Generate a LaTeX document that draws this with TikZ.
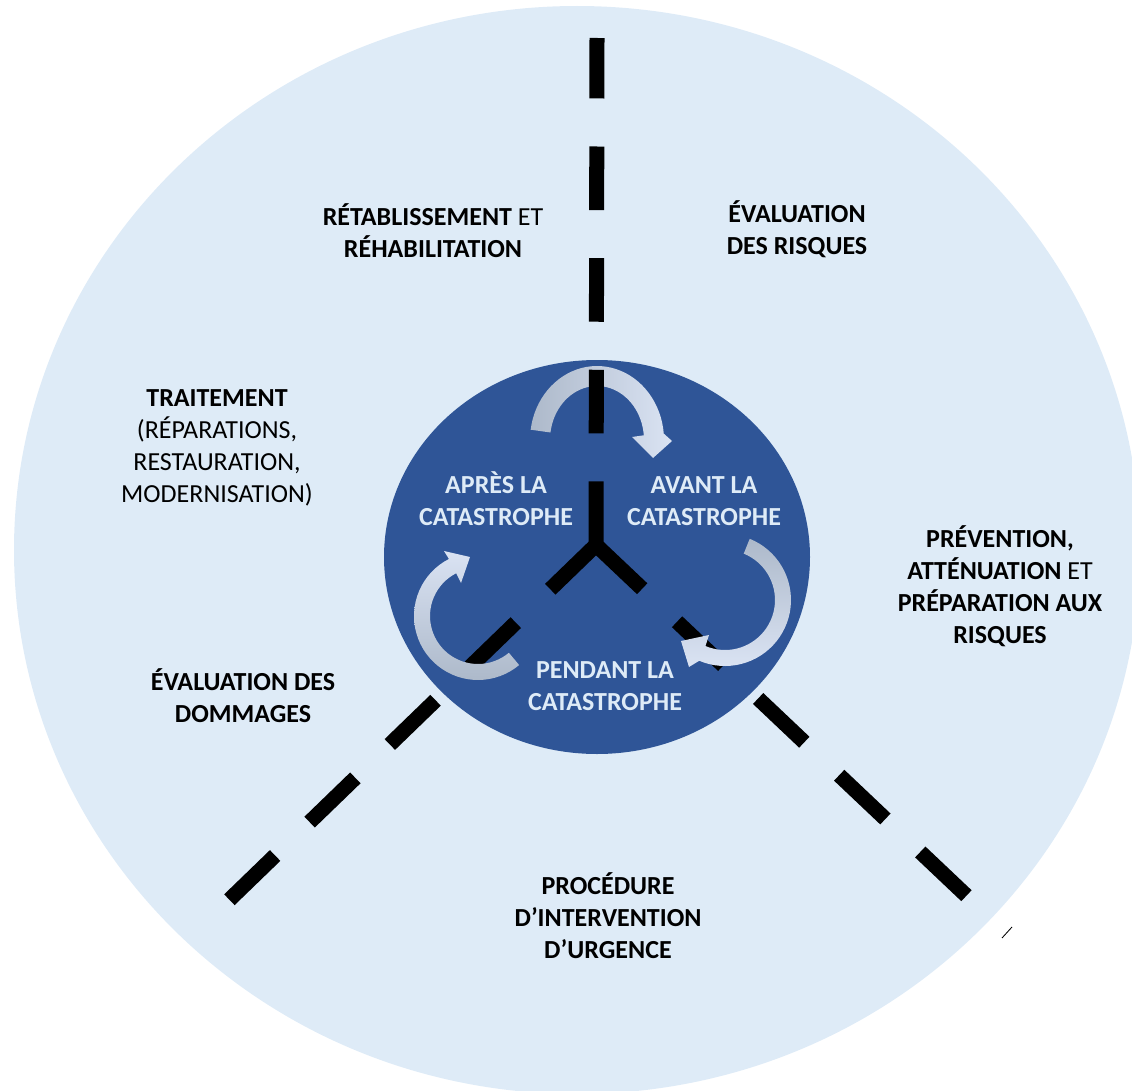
\documentclass[tikz,border=0pt]{standalone}
\usepackage{fontspec}
\setmainfont{Carlito}
\definecolor{outerblue}{HTML}{DEEBF7}
\definecolor{innerblue}{HTML}{2F5597}
\definecolor{arrowgray}{HTML}{ADB9CA}
\definecolor{arrowlight}{HTML}{DAE3F3}
\definecolor{labellight}{HTML}{DEEBF7}

\begin{document}
\begin{tikzpicture}[x=0.025cm, y=-0.025cm,
    divider/.style={line width=0.375cm, dash pattern=on 1.59cm off 1.2cm},
    phase/.style={inner sep=0pt, align=center, font=\bfseries\fontsize{18.5pt}{22.8pt}\selectfont},
    outside/.style={phase, text=black},
    inside/.style={phase, text=labellight}]
  \useasboundingbox (0,0) rectangle (1132,1091);
  \clip (0,0) rectangle (1132,1091);
  % Circles
  \fill[outerblue] (577,550) ellipse [x radius=563, y radius=544];
  \fill[innerblue] (597,557) ellipse [x radius=213, y radius=197];
  % Dashed dividers
  \coordinate (hub) at (596,545);
  \coordinate (top end) at (597,38);
  \coordinate (left end) at (225,904);
  \coordinate (right end) at (971,900);
  \draw[divider] (hub) -- (left end);
  \draw[divider] (hub) -- (right end);
  % Curved arrows
  \shade[left color=arrowgray, right color=arrowlight]
    plot[domain=188:355, samples=40] ({597+67*cos(\x)}, {440+74*sin(\x)})
    -- (672,441) -- (653,458) -- (632,437)
    -- plot[domain=355:188, samples=40] ({597+47*cos(\x)}, {440+54*sin(\x)})
    -- cycle;
  \shade[top color=arrowgray, bottom color=arrowlight]
    plot[domain=-68:113, samples=40] ({725+66*cos(\x)}, {600+66*sin(\x)})
    -- (689,667) -- (681,641) -- (709,635)
    -- plot[domain=113:-68, samples=40] ({725+50*cos(\x)}, {600+50*sin(\x)})
    -- cycle;
  \shade[bottom color=arrowgray, top color=arrowlight]
    plot[domain=50:243, samples=40] ({478+64*cos(\x)}, {616+64*sin(\x)})
    -- (444,551) -- (470,557) -- (461,583)
    -- plot[domain=243:50, samples=40] ({478+48*cos(\x)}, {616+48*sin(\x)})
    -- cycle;
  \draw[divider] (hub) -- (top end);
  % Outer labels
  \node[outside] (recovery) at (433,231) {RÉTABLISSEMENT {\mdseries ET}\\RÉHABILITATION};
  \node[outside] (risk) at (797,229) {ÉVALUATION\\DES RISQUES};
  \node[outside] (treatment) at (217,448) {TRAITEMENT\\{\mdseries (RÉPARATIONS,}\\{\mdseries RESTAURATION,}\\{\mdseries MODERNISATION)}};
  \node[outside] (prevention) at (1000,586) {PRÉVENTION,\\ATTÉNUATION {\mdseries ET}\\PRÉPARATION AUX\\RISQUES};
  \node[outside] (damage) at (243,696) {ÉVALUATION DES\\DOMMAGES};
  \node[outside] (response) at (608,916) {PROCÉDURE\\D’INTERVENTION\\D’URGENCE};
  % Inner labels
  \node[inside] (after) at (496,499) {APRÈS LA\\CATASTROPHE};
  \node[inside] (before) at (704,501) {AVANT LA\\CATASTROPHE};
  \node[inside] (during) at (605,686) {PENDANT LA\\CATASTROPHE};
  % stray mark
  \draw[line width=0.6pt] (1002,938) -- (1012,927);
\end{tikzpicture}
\end{document}
